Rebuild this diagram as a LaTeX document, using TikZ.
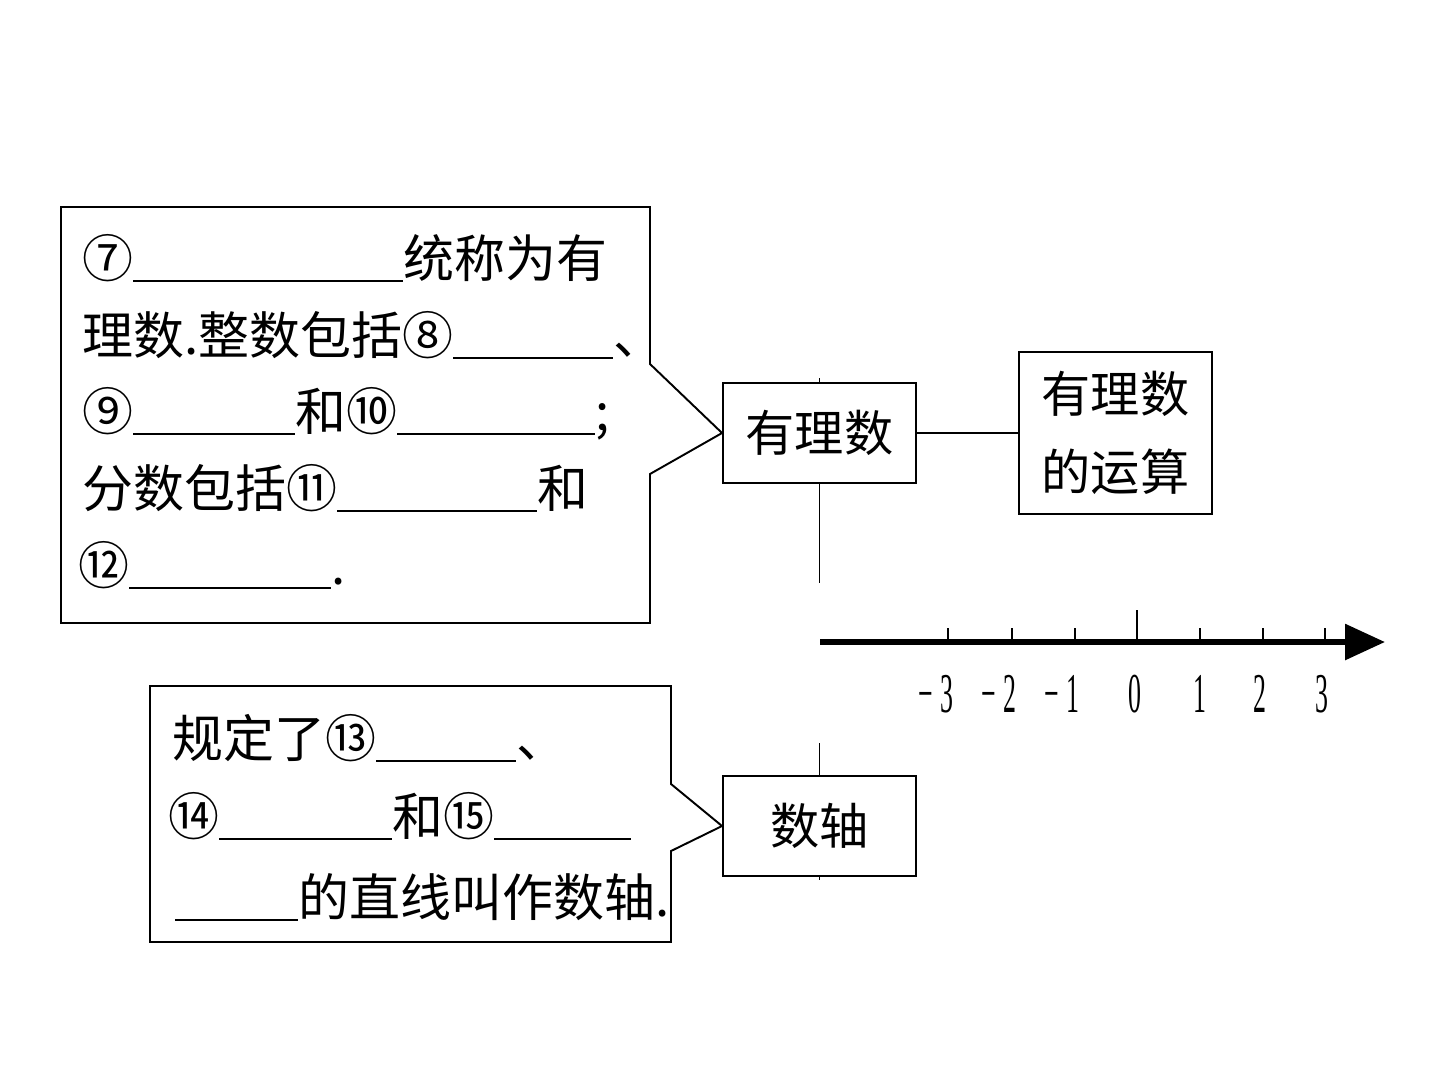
\documentclass[tikz,border=0pt]{standalone}
\usepackage{fontspec}
\setmainfont{Liberation Serif}
\newfontfamily\cjk{Noto Sans CJK SC}
\usetikzlibrary{arrows.meta,backgrounds}
\newlength\pxu \setlength\pxu{0.02cm}
\newcommand\blank[1]{\rule[-0.1em]{#1\pxu}{1.3pt}}
\newcommand\axlab[1]{\scalebox{0.46}[1]{#1}}
\tikzset{
  box/.style={draw, line width=1.1pt, minimum width=3.86cm, minimum height=2cm, inner sep=0pt, fill=white, font=\cjk\fontsize{28}{44}\selectfont},
  txt/.style={anchor=base west, inner sep=0pt, font=\cjk\fontsize{29}{35}\selectfont},
  lbl/.style={anchor=base, inner sep=0pt, font=\fontsize{32}{32}\selectfont},
  frame/.style={line width=1.1pt, line join=miter},
  link/.style={line width=1.1pt},
  axisline/.style={line width=3.4pt, -{Triangle[length=0.8cm,width=0.7cm]}},
  tickmark/.style={line width=1.6pt}
}
\begin{document}
\begin{tikzpicture}[x=0.02cm,y=-0.02cm]
\useasboundingbox (0,0) rectangle (1440,1080);
% main nodes
\node[box] (rq) at (819.5,433) {有理数};
\node[box, minimum height=3.24cm, align=center] (op) at (1115.5,433) {有理数\\的运算};
\node[box] (ys) at (819.5,826) {数轴};
\coordinate (stubT) at (819.5,378);
\coordinate (gapT) at (819.5,583);
\coordinate (gapB) at (819.5,743);
\coordinate (stubB) at (819.5,880);
\begin{scope}[on background layer]
  \draw[link] (stubT) -- (gapT);
  \draw[link] (gapB) -- (stubB);
\end{scope}
\draw[link] (rq.east) -- (op.west);
% callout frames
\draw[frame] (61,207) -- (650,207) -- (650,364) -- (rq.west) -- (650,474) -- (650,623) -- (61,623) -- cycle;
\draw[frame] (150,686) -- (671,686) -- (671,784) -- (ys.west) -- (671,851) -- (671,942) -- (150,942) -- cycle;
% top callout text
\node[txt] (t1) at (82,277) {⑦\blank{270}统称为有};
\node[txt] (t2) at (82,354) {理数.整数包括⑧\blank{160}、};
\node[txt] (t3) at (82,430) {⑨\blank{162}和⑩\blank{198};};
\node[txt] (t4) at (82,507) {分数包括⑪\blank{200}和};
\node[txt] (t5) at (78,584) {⑫\blank{202}.};
% bottom callout text
\node[txt] (b1) at (172,757) {规定了⑬\blank{140}、};
\node[txt] (b2) at (168,835) {⑭\blank{173}和⑮\blank{137}};
\node[txt] (b3) at (175,916) {\blank{123}的直线叫作数轴.};
% number axis
\coordinate (axL) at (820,642);
\coordinate (axR) at (1385,642);
\draw[axisline] (axL) -- (axR);
\foreach \x in {948,1012,1075,1200,1263,1325}
  \draw[tickmark] (\x,642) -- (\x,628);
\draw[tickmark] (1137,642) -- (1137,610);
\node[lbl] (lm3) at (936,712) {\axlab{−\hspace{0.3em}3}};
\node[lbl] (lm2) at (999,712) {\axlab{−\hspace{0.3em}2}};
\node[lbl] (lm1) at (1062,712) {\axlab{−\hspace{0.3em}1}};
\node[lbl] (l0) at (1135,712) {\axlab{0}};
\node[lbl] (l1) at (1200,712) {\axlab{1}};
\node[lbl] (l2) at (1260,712) {\axlab{2}};
\node[lbl] (l3) at (1322,712) {\axlab{3}};
\end{tikzpicture}
\end{document}
